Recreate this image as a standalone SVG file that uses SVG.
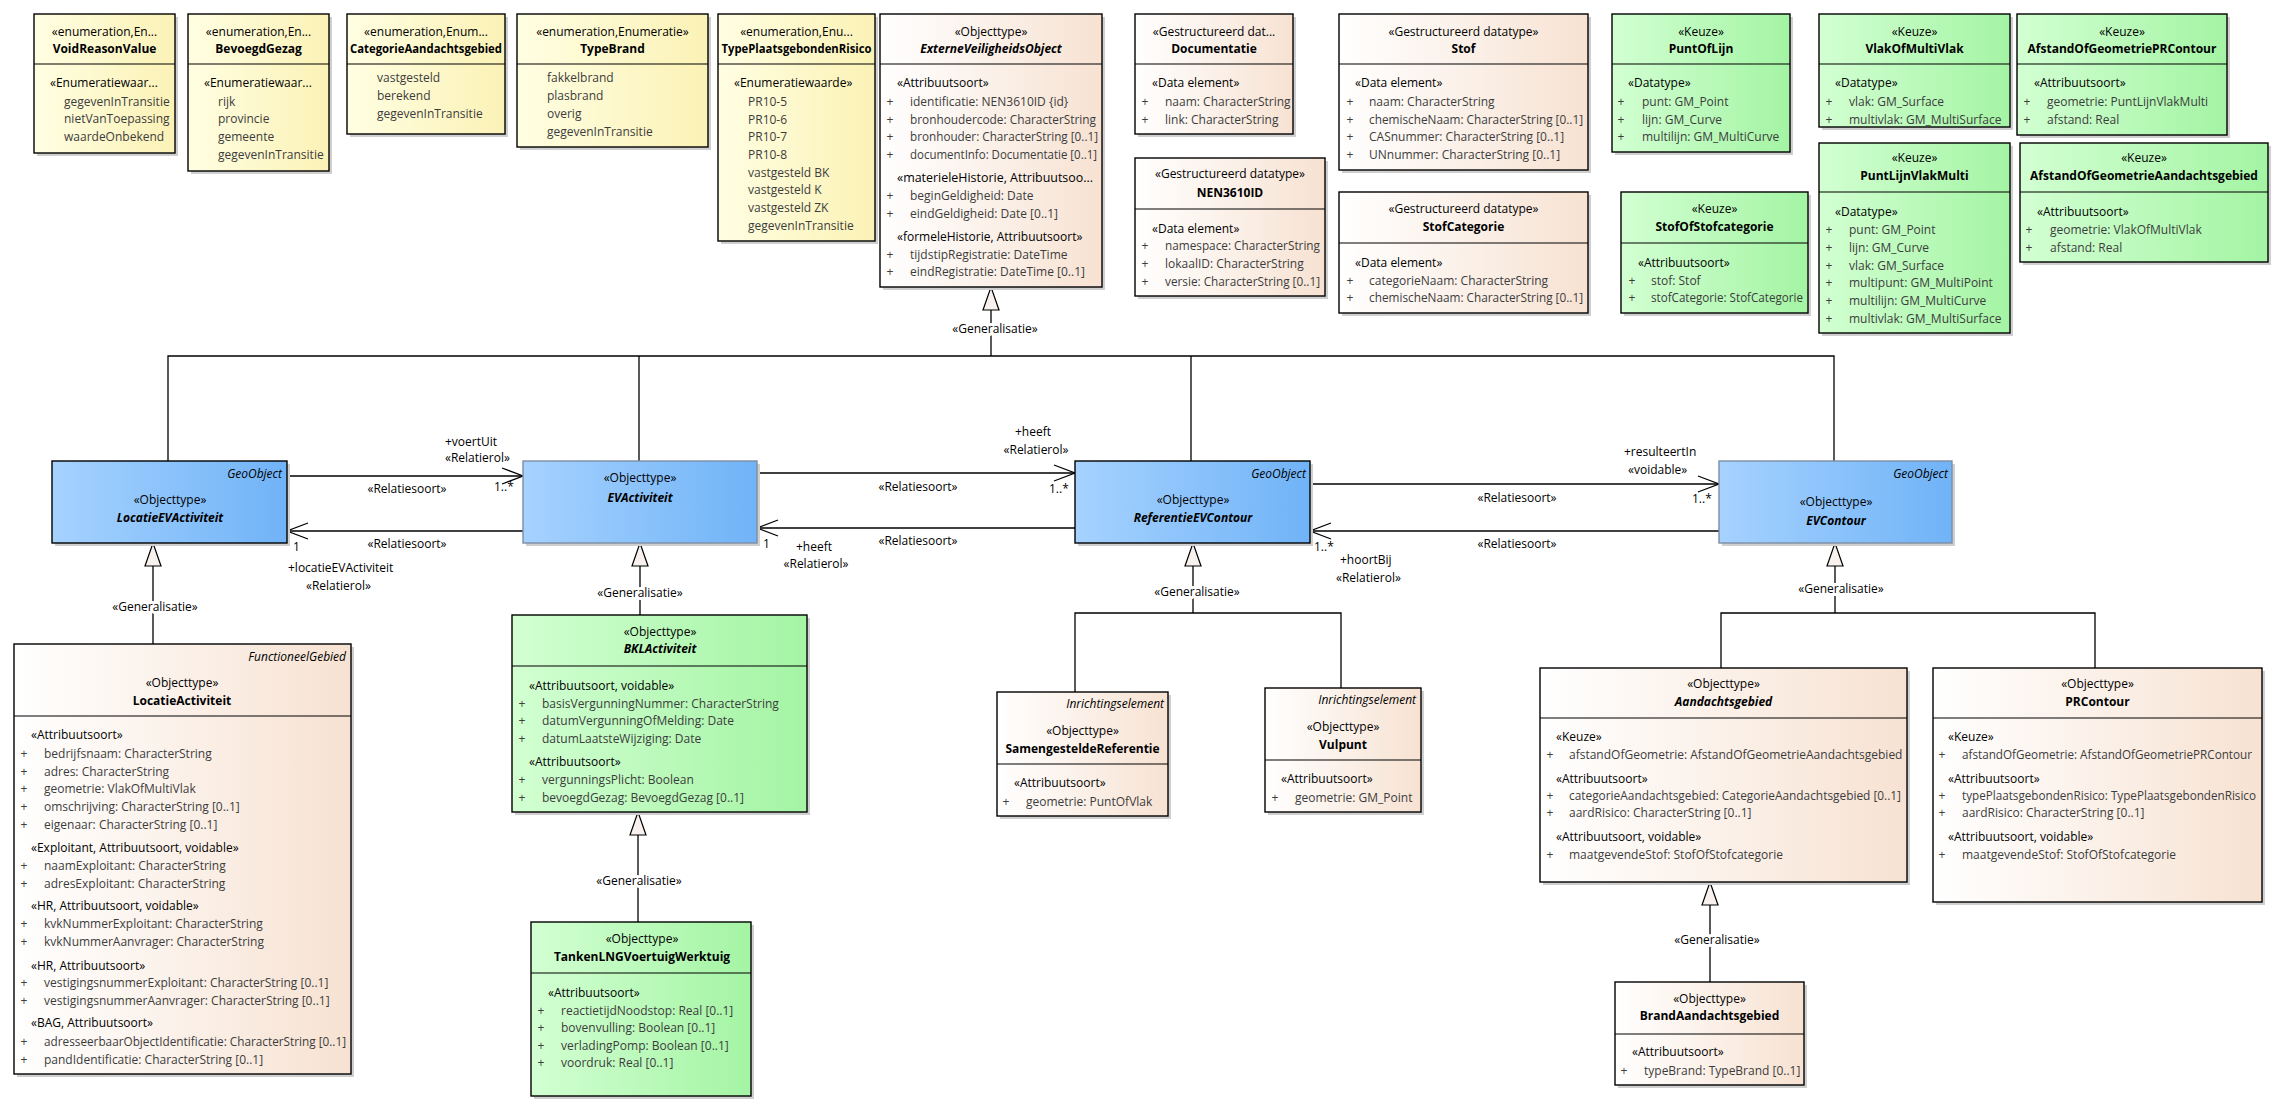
<svg xmlns="http://www.w3.org/2000/svg" width="2292" height="1116" viewBox="0 0 2292 1116">
<style>
text{font-family:'Open Sans','Noto Sans',sans-serif;font-size:12px;fill:#000}
.c{text-anchor:middle}.e{text-anchor:end}
.b{font-weight:bold}.i{font-style:italic}
.a{fill:#3c3c3c}
.p{fill:#3c3c3c;text-anchor:middle}
.sh{fill:#cfcfcf}
.bx{stroke:#000;stroke-width:1.4}
.gy{fill:url(#gY)}.gp{fill:url(#gP)}.gg{fill:url(#gG)}.gb{fill:url(#gB)}
.gr{stroke:#7d8ea3}
.dv{stroke:#000;stroke-width:1.2}
.ln{fill:none;stroke:#000;stroke-width:1.3}
.gl{paint-order:stroke;stroke:#fff;stroke-width:6px;stroke-linejoin:round}
</style>
<defs>
<linearGradient id="gY" x1="0" y1="0" x2="1" y2="0"><stop offset="0" stop-color="#FFFEE2"/><stop offset="1" stop-color="#FBF2B6"/></linearGradient>
<linearGradient id="gP" x1="0" y1="0" x2="1" y2="0"><stop offset="0" stop-color="#FFFFFF"/><stop offset="1" stop-color="#F7E2D2"/></linearGradient>
<linearGradient id="gG" x1="0" y1="0" x2="1" y2="0"><stop offset="0" stop-color="#D2FFD2"/><stop offset="1" stop-color="#A4F4A4"/></linearGradient>
<linearGradient id="gB" x1="0" y1="0" x2="1" y2="0"><stop offset="0" stop-color="#A6D2FF"/><stop offset="1" stop-color="#70B3F7"/></linearGradient>
<marker id="open" markerUnits="userSpaceOnUse" markerWidth="24" markerHeight="20" refX="21" refY="9" orient="auto" overflow="visible"><path d="M0,1 L21,9 L0,17" fill="none" stroke="#000" stroke-width="1.3"/></marker>
<marker id="tri" markerUnits="userSpaceOnUse" markerWidth="25" markerHeight="18" refX="23" refY="8" orient="auto" overflow="visible"><path d="M0,0 L23,8 L0,16 Z" fill="#F8F1EE" stroke="#000" stroke-width="1.2"/></marker>
</defs>
<rect width="2292" height="1116" fill="#fff"/>

<g id="connectors">
<path class="ln" d="M168,461 V356 H1834 V461 M639,356 V461 M1191,356 V461"/>
<path class="ln" d="M991,356 V287" marker-end="url(#tri)"/>
<text class="c gl" x="995" y="333">«Generalisatie»</text>
<path class="ln" d="M153,644 V543" marker-end="url(#tri)"/>
<text class="c gl" x="155" y="611">«Generalisatie»</text>
<path class="ln" d="M640,615 V543" marker-end="url(#tri)"/>
<text class="c gl" x="640" y="597">«Generalisatie»</text>
<path class="ln" d="M638,922 V812" marker-end="url(#tri)"/>
<text class="c gl" x="639" y="885">«Generalisatie»</text>
<path class="ln" d="M1075,692 V613 H1341 V688"/>
<path class="ln" d="M1193,613 V543" marker-end="url(#tri)"/>
<text class="c gl" x="1197" y="596">«Generalisatie»</text>
<path class="ln" d="M1721,668 V613 H2095 V668"/>
<path class="ln" d="M1835,613 V543" marker-end="url(#tri)"/>
<text class="c gl" x="1841" y="593">«Generalisatie»</text>
<path class="ln" d="M1710,982 V882" marker-end="url(#tri)"/>
<text class="c gl" x="1717" y="944">«Generalisatie»</text>

<path class="ln" d="M287,476 H523" marker-end="url(#open)"/>
<text x="445" y="446">+voertUit</text>
<text x="445" y="462">«Relatierol»</text>
<text class="c" x="407" y="493">«Relatiesoort»</text>
<text x="494" y="491">1..*</text>

<path class="ln" d="M523,531 H287" marker-end="url(#open)"/>
<text class="c" x="407" y="548">«Relatiesoort»</text>
<text x="293" y="551">1</text>
<text x="288" y="572">+locatieEVActiviteit</text>
<text x="306" y="590">«Relatierol»</text>

<path class="ln" d="M757,473 H1075" marker-end="url(#open)"/>
<text class="c" x="1033" y="436">+heeft</text>
<text class="c" x="1036" y="454">«Relatierol»</text>
<text class="c" x="918" y="491">«Relatiesoort»</text>
<text x="1049" y="493">1..*</text>

<path class="ln" d="M1075,528 H757" marker-end="url(#open)"/>
<text class="c" x="918" y="545">«Relatiesoort»</text>
<text x="763" y="548">1</text>
<text class="c" x="814" y="551">+heeft</text>
<text class="c" x="816" y="568">«Relatierol»</text>

<path class="ln" d="M1310,484 H1719" marker-end="url(#open)"/>
<text x="1624" y="456">+resulteertIn</text>
<text x="1628" y="474">«voidable»</text>
<text class="c" x="1517" y="502">«Relatiesoort»</text>
<text x="1692" y="503">1..*</text>

<path class="ln" d="M1719,531 H1310" marker-end="url(#open)"/>
<text class="c" x="1517" y="548">«Relatiesoort»</text>
<text x="1314" y="551">1..*</text>
<text x="1340" y="564">+hoortBij</text>
<text x="1336" y="582">«Relatierol»</text>
</g>

<g id="VoidReasonValue">
<rect class="sh" x="37" y="17" width="141" height="139"/>
<rect class="bx gy" x="34" y="14" width="141" height="139"/>
<line class="dv" x1="34" y1="64" x2="175" y2="64"/>
<text class="c" x="104.5" y="36">«enumeration,En...</text>
<text class="c b" x="104.5" y="53">VoidReasonValue</text>
<text x="50" y="87">«Enumeratiewaar...</text>
<text class="a" x="64" y="106">gegevenInTransitie</text>
<text class="a" x="64" y="123">nietVanToepassing</text>
<text class="a" x="64" y="141">waardeOnbekend</text>
</g>

<g id="BevoegdGezag">
<rect class="sh" x="191" y="17" width="141" height="157"/>
<rect class="bx gy" x="188" y="14" width="141" height="157"/>
<line class="dv" x1="188" y1="64" x2="329" y2="64"/>
<text class="c" x="258.5" y="36">«enumeration,En...</text>
<text class="c b" x="258.5" y="53">BevoegdGezag</text>
<text x="204" y="87">«Enumeratiewaar...</text>
<text class="a" x="218" y="106">rijk</text>
<text class="a" x="218" y="123">provincie</text>
<text class="a" x="218" y="141">gemeente</text>
<text class="a" x="218" y="159">gegevenInTransitie</text>
</g>

<g id="CategorieAandachtsgebied">
<rect class="sh" x="350" y="17" width="158" height="120"/>
<rect class="bx gy" x="347" y="14" width="158" height="120"/>
<line class="dv" x1="347" y1="64" x2="505" y2="64"/>
<text class="c" x="426" y="36">«enumeration,Enum...</text>
<text class="c b" x="426" y="53" textLength="152" lengthAdjust="spacingAndGlyphs">CategorieAandachtsgebied</text>
<text class="a" x="377" y="82">vastgesteld</text>
<text class="a" x="377" y="100">berekend</text>
<text class="a" x="377" y="118">gegevenInTransitie</text>
</g>

<g id="TypeBrand">
<rect class="sh" x="520" y="17" width="191" height="133"/>
<rect class="bx gy" x="517" y="14" width="191" height="133"/>
<line class="dv" x1="517" y1="64" x2="708" y2="64"/>
<text class="c" x="612.5" y="36">«enumeration,Enumeratie»</text>
<text class="c b" x="612.5" y="53">TypeBrand</text>
<text class="a" x="547" y="82">fakkelbrand</text>
<text class="a" x="547" y="100">plasbrand</text>
<text class="a" x="547" y="118">overig</text>
<text class="a" x="547" y="136">gegevenInTransitie</text>
</g>

<g id="TypePlaatsgebondenRisico">
<rect class="sh" x="721" y="17" width="157" height="227"/>
<rect class="bx gy" x="718" y="14" width="157" height="227"/>
<line class="dv" x1="718" y1="64" x2="875" y2="64"/>
<text class="c" x="796.5" y="36">«enumeration,Enu...</text>
<text class="c b" x="796.5" y="53" textLength="150" lengthAdjust="spacingAndGlyphs">TypePlaatsgebondenRisico</text>
<text x="734" y="87">«Enumeratiewaarde»</text>
<text class="a" x="748" y="106">PR10-5</text>
<text class="a" x="748" y="124">PR10-6</text>
<text class="a" x="748" y="141">PR10-7</text>
<text class="a" x="748" y="159">PR10-8</text>
<text class="a" x="748" y="177">vastgesteld BK</text>
<text class="a" x="748" y="194">vastgesteld K</text>
<text class="a" x="748" y="212">vastgesteld ZK</text>
<text class="a" x="748" y="230">gegevenInTransitie</text>
</g>

<g id="ExterneVeiligheidsObject">
<rect class="sh" x="883" y="17" width="222" height="273"/>
<rect class="bx gp" x="880" y="14" width="222" height="273"/>
<line class="dv" x1="880" y1="64" x2="1102" y2="64"/>
<text class="c" x="991" y="36">«Objecttype»</text>
<text class="c b i" x="991" y="53">ExterneVeiligheidsObject</text>
<text x="897" y="87">«Attribuutsoort»</text>
<text class="p" x="890" y="106">+</text><text class="a" x="910" y="106">identificatie: NEN3610ID {id}</text>
<text class="p" x="890" y="124">+</text><text class="a" x="910" y="124" textLength="186" lengthAdjust="spacingAndGlyphs">bronhoudercode: CharacterString</text>
<text class="p" x="890" y="141">+</text><text class="a" x="910" y="141" textLength="188" lengthAdjust="spacingAndGlyphs">bronhouder: CharacterString [0..1]</text>
<text class="p" x="890" y="159">+</text><text class="a" x="910" y="159" textLength="187" lengthAdjust="spacingAndGlyphs">documentInfo: Documentatie [0..1]</text>
<text x="897" y="182" textLength="196" lengthAdjust="spacingAndGlyphs">«materieleHistorie, Attribuutsoo...</text>
<text class="p" x="890" y="200">+</text><text class="a" x="910" y="200">beginGeldigheid: Date</text>
<text class="p" x="890" y="218">+</text><text class="a" x="910" y="218">eindGeldigheid: Date [0..1]</text>
<text x="897" y="241">«formeleHistorie, Attribuutsoort»</text>
<text class="p" x="890" y="259">+</text><text class="a" x="910" y="259">tijdstipRegistratie: DateTime</text>
<text class="p" x="890" y="276">+</text><text class="a" x="910" y="276">eindRegistratie: DateTime [0..1]</text>
</g>

<g id="Documentatie">
<rect class="sh" x="1138" y="17" width="158" height="120"/>
<rect class="bx gp" x="1135" y="14" width="158" height="120"/>
<line class="dv" x1="1135" y1="64" x2="1293" y2="64"/>
<text class="c" x="1214" y="36">«Gestructureerd dat...</text>
<text class="c b" x="1214" y="53">Documentatie</text>
<text x="1152" y="87">«Data element»</text>
<text class="p" x="1145" y="106">+</text><text class="a" x="1165" y="106">naam: CharacterString</text>
<text class="p" x="1145" y="124">+</text><text class="a" x="1165" y="124">link: CharacterString</text>
</g>

<g id="NEN3610ID">
<rect class="sh" x="1138" y="161" width="190" height="138"/>
<rect class="bx gp" x="1135" y="158" width="190" height="138"/>
<line class="dv" x1="1135" y1="209" x2="1325" y2="209"/>
<text class="c" x="1230" y="178">«Gestructureerd datatype»</text>
<text class="c b" x="1230" y="197">NEN3610ID</text>
<text x="1152" y="233">«Data element»</text>
<text class="p" x="1145" y="250">+</text><text class="a" x="1165" y="250" textLength="155" lengthAdjust="spacingAndGlyphs">namespace: CharacterString</text>
<text class="p" x="1145" y="268">+</text><text class="a" x="1165" y="268">lokaalID: CharacterString</text>
<text class="p" x="1145" y="286">+</text><text class="a" x="1165" y="286" textLength="155" lengthAdjust="spacingAndGlyphs">versie: CharacterString [0..1]</text>
</g>

<g id="Stof">
<rect class="sh" x="1342" y="17" width="249" height="156"/>
<rect class="bx gp" x="1339" y="14" width="249" height="156"/>
<line class="dv" x1="1339" y1="64" x2="1588" y2="64"/>
<text class="c" x="1463.5" y="36">«Gestructureerd datatype»</text>
<text class="c b" x="1463.5" y="53">Stof</text>
<text x="1355" y="87">«Data element»</text>
<text class="p" x="1350" y="106">+</text><text class="a" x="1369" y="106">naam: CharacterString</text>
<text class="p" x="1350" y="124">+</text><text class="a" x="1369" y="124" textLength="214" lengthAdjust="spacingAndGlyphs">chemischeNaam: CharacterString [0..1]</text>
<text class="p" x="1350" y="141">+</text><text class="a" x="1369" y="141">CASnummer: CharacterString [0..1]</text>
<text class="p" x="1350" y="159">+</text><text class="a" x="1369" y="159">UNnummer: CharacterString [0..1]</text>
</g>

<g id="StofCategorie">
<rect class="sh" x="1342" y="195" width="249" height="121"/>
<rect class="bx gp" x="1339" y="192" width="249" height="121"/>
<line class="dv" x1="1339" y1="243" x2="1588" y2="243"/>
<text class="c" x="1463.5" y="213">«Gestructureerd datatype»</text>
<text class="c b" x="1463.5" y="231">StofCategorie</text>
<text x="1355" y="267">«Data element»</text>
<text class="p" x="1350" y="285">+</text><text class="a" x="1369" y="285">categorieNaam: CharacterString</text>
<text class="p" x="1350" y="302">+</text><text class="a" x="1369" y="302" textLength="214" lengthAdjust="spacingAndGlyphs">chemischeNaam: CharacterString [0..1]</text>
</g>

<g id="PuntOfLijn">
<rect class="sh" x="1615" y="17" width="178" height="138"/>
<rect class="bx gg" x="1612" y="14" width="178" height="138"/>
<line class="dv" x1="1612" y1="64" x2="1790" y2="64"/>
<text class="c" x="1701" y="36">«Keuze»</text>
<text class="c b" x="1701" y="53">PuntOfLijn</text>
<text x="1628" y="87">«Datatype»</text>
<text class="p" x="1621" y="106">+</text><text class="a" x="1642" y="106">punt: GM_Point</text>
<text class="p" x="1621" y="124">+</text><text class="a" x="1642" y="124">lijn: GM_Curve</text>
<text class="p" x="1621" y="141">+</text><text class="a" x="1642" y="141">multilijn: GM_MultiCurve</text>
</g>

<g id="StofOfStofcategorie">
<rect class="sh" x="1624" y="195" width="187" height="121"/>
<rect class="bx gg" x="1621" y="192" width="187" height="121"/>
<line class="dv" x1="1621" y1="243" x2="1808" y2="243"/>
<text class="c" x="1714.5" y="213">«Keuze»</text>
<text class="c b" x="1714.5" y="231">StofOfStofcategorie</text>
<text x="1638" y="267">«Attribuutsoort»</text>
<text class="p" x="1632" y="285">+</text><text class="a" x="1651" y="285">stof: Stof</text>
<text class="p" x="1632" y="302">+</text><text class="a" x="1651" y="302" textLength="152" lengthAdjust="spacingAndGlyphs">stofCategorie: StofCategorie</text>
</g>

<g id="VlakOfMultiVlak">
<rect class="sh" x="1822" y="17" width="191" height="113"/>
<rect class="bx gg" x="1819" y="14" width="191" height="113"/>
<line class="dv" x1="1819" y1="64" x2="2010" y2="64"/>
<text class="c" x="1914.5" y="36">«Keuze»</text>
<text class="c b" x="1914.5" y="53">VlakOfMultiVlak</text>
<text x="1835" y="87">«Datatype»</text>
<text class="p" x="1829" y="106">+</text><text class="a" x="1849" y="106">vlak: GM_Surface</text>
<text class="p" x="1829" y="124">+</text><text class="a" x="1849" y="124">multivlak: GM_MultiSurface</text>
</g>

<g id="AfstandOfGeometriePRContour">
<rect class="sh" x="2020" y="17" width="210" height="121"/>
<rect class="bx gg" x="2017" y="14" width="210" height="121"/>
<line class="dv" x1="2017" y1="64" x2="2227" y2="64"/>
<text class="c" x="2122" y="36">«Keuze»</text>
<text class="c b" x="2122" y="53">AfstandOfGeometriePRContour</text>
<text x="2034" y="87">«Attribuutsoort»</text>
<text class="p" x="2027" y="106">+</text><text class="a" x="2047" y="106">geometrie: PuntLijnVlakMulti</text>
<text class="p" x="2027" y="124">+</text><text class="a" x="2047" y="124">afstand: Real</text>
</g>

<g id="PuntLijnVlakMulti">
<rect class="sh" x="1822" y="146" width="191" height="190"/>
<rect class="bx gg" x="1819" y="143" width="191" height="190"/>
<line class="dv" x1="1819" y1="192" x2="2010" y2="192"/>
<text class="c" x="1914.5" y="162">«Keuze»</text>
<text class="c b" x="1914.5" y="180">PuntLijnVlakMulti</text>
<text x="1835" y="216">«Datatype»</text>
<text class="p" x="1829" y="234">+</text><text class="a" x="1849" y="234">punt: GM_Point</text>
<text class="p" x="1829" y="252">+</text><text class="a" x="1849" y="252">lijn: GM_Curve</text>
<text class="p" x="1829" y="270">+</text><text class="a" x="1849" y="270">vlak: GM_Surface</text>
<text class="p" x="1829" y="287">+</text><text class="a" x="1849" y="287">multipunt: GM_MultiPoint</text>
<text class="p" x="1829" y="305">+</text><text class="a" x="1849" y="305">multilijn: GM_MultiCurve</text>
<text class="p" x="1829" y="323">+</text><text class="a" x="1849" y="323">multivlak: GM_MultiSurface</text>
</g>

<g id="AfstandOfGeometrieAandachtsgebied">
<rect class="sh" x="2023" y="146" width="248" height="119"/>
<rect class="bx gg" x="2020" y="143" width="248" height="119"/>
<line class="dv" x1="2020" y1="192" x2="2268" y2="192"/>
<text class="c" x="2144" y="162">«Keuze»</text>
<text class="c b" x="2144" y="180">AfstandOfGeometrieAandachtsgebied</text>
<text x="2037" y="216">«Attribuutsoort»</text>
<text class="p" x="2029" y="234">+</text><text class="a" x="2050" y="234">geometrie: VlakOfMultiVlak</text>
<text class="p" x="2029" y="252">+</text><text class="a" x="2050" y="252">afstand: Real</text>
</g>

<g id="LocatieEVActiviteit">
<rect class="sh" x="55" y="464" width="235" height="82"/>
<rect class="bx gb" x="52" y="461" width="235" height="82"/>
<text class="e i" x="282" y="478">GeoObject</text>
<text class="c" x="170" y="504">«Objecttype»</text>
<text class="c b i" x="170" y="522">LocatieEVActiviteit</text>
</g>

<g id="EVActiviteit">
<rect class="sh" x="526" y="464" width="234" height="82"/>
<rect class="bx gb gr" x="523" y="461" width="234" height="82"/>
<text class="c" x="640" y="482">«Objecttype»</text>
<text class="c b i" x="640" y="502">EVActiviteit</text>
</g>

<g id="ReferentieEVContour">
<rect class="sh" x="1078" y="464" width="235" height="82"/>
<rect class="bx gb" x="1075" y="461" width="235" height="82"/>
<text class="e i" x="1306" y="478">GeoObject</text>
<text class="c" x="1193" y="504">«Objecttype»</text>
<text class="c b i" x="1193" y="522">ReferentieEVContour</text>
</g>

<g id="EVContour">
<rect class="sh" x="1722" y="464" width="233" height="82"/>
<rect class="bx gb gr" x="1719" y="461" width="233" height="82"/>
<text class="e i" x="1948" y="478">GeoObject</text>
<text class="c" x="1836" y="506">«Objecttype»</text>
<text class="c b i" x="1836" y="525">EVContour</text>
</g>

<g id="LocatieActiviteit">
<rect class="sh" x="17" y="647" width="337" height="430"/>
<rect class="bx gp" x="14" y="644" width="337" height="430"/>
<line class="dv" x1="14" y1="716" x2="351" y2="716"/>
<text class="e i" x="346" y="661">FunctioneelGebied</text>
<text class="c" x="182" y="687">«Objecttype»</text>
<text class="c b" x="182" y="705">LocatieActiviteit</text>
<text x="31" y="739">«Attribuutsoort»</text>
<text class="p" x="24" y="758">+</text><text class="a" x="44" y="758">bedrijfsnaam: CharacterString</text>
<text class="p" x="24" y="776">+</text><text class="a" x="44" y="776">adres: CharacterString</text>
<text class="p" x="24" y="793">+</text><text class="a" x="44" y="793">geometrie: VlakOfMultiVlak</text>
<text class="p" x="24" y="811">+</text><text class="a" x="44" y="811">omschrijving: CharacterString [0..1]</text>
<text class="p" x="24" y="829">+</text><text class="a" x="44" y="829">eigenaar: CharacterString [0..1]</text>
<text x="31" y="852">«Exploitant, Attribuutsoort, voidable»</text>
<text class="p" x="24" y="870">+</text><text class="a" x="44" y="870">naamExploitant: CharacterString</text>
<text class="p" x="24" y="888">+</text><text class="a" x="44" y="888">adresExploitant: CharacterString</text>
<text x="31" y="910">«HR, Attribuutsoort, voidable»</text>
<text class="p" x="24" y="928">+</text><text class="a" x="44" y="928">kvkNummerExploitant: CharacterString</text>
<text class="p" x="24" y="946">+</text><text class="a" x="44" y="946">kvkNummerAanvrager: CharacterString</text>
<text x="31" y="970">«HR, Attribuutsoort»</text>
<text class="p" x="24" y="987">+</text><text class="a" x="44" y="987">vestigingsnummerExploitant: CharacterString [0..1]</text>
<text class="p" x="24" y="1005">+</text><text class="a" x="44" y="1005">vestigingsnummerAanvrager: CharacterString [0..1]</text>
<text x="31" y="1027">«BAG, Attribuutsoort»</text>
<text class="p" x="24" y="1046">+</text><text class="a" x="44" y="1046" textLength="302" lengthAdjust="spacingAndGlyphs">adresseerbaarObjectIdentificatie: CharacterString [0..1]</text>
<text class="p" x="24" y="1064">+</text><text class="a" x="44" y="1064">pandIdentificatie: CharacterString [0..1]</text>
</g>

<g id="BKLActiviteit">
<rect class="sh" x="515" y="618" width="295" height="197"/>
<rect class="bx gg" x="512" y="615" width="295" height="197"/>
<line class="dv" x1="512" y1="666" x2="807" y2="666"/>
<text class="c" x="660" y="636">«Objecttype»</text>
<text class="c b i" x="660" y="653">BKLActiviteit</text>
<text x="529" y="690">«Attribuutsoort, voidable»</text>
<text class="p" x="522" y="708">+</text><text class="a" x="542" y="708">basisVergunningNummer: CharacterString</text>
<text class="p" x="522" y="725">+</text><text class="a" x="542" y="725">datumVergunningOfMelding: Date</text>
<text class="p" x="522" y="743">+</text><text class="a" x="542" y="743">datumLaatsteWijziging: Date</text>
<text x="529" y="766">«Attribuutsoort»</text>
<text class="p" x="522" y="784">+</text><text class="a" x="542" y="784">vergunningsPlicht: Boolean</text>
<text class="p" x="522" y="802">+</text><text class="a" x="542" y="802">bevoegdGezag: BevoegdGezag [0..1]</text>
</g>

<g id="TankenLNGVoertuigWerktuig">
<rect class="sh" x="534" y="925" width="220" height="174"/>
<rect class="bx gg" x="531" y="922" width="220" height="174"/>
<line class="dv" x1="531" y1="973" x2="751" y2="973"/>
<text class="c" x="642" y="943">«Objecttype»</text>
<text class="c b" x="642" y="961">TankenLNGVoertuigWerktuig</text>
<text x="548" y="997">«Attribuutsoort»</text>
<text class="p" x="541" y="1015">+</text><text class="a" x="561" y="1015">reactietijdNoodstop: Real [0..1]</text>
<text class="p" x="541" y="1032">+</text><text class="a" x="561" y="1032">bovenvulling: Boolean [0..1]</text>
<text class="p" x="541" y="1050">+</text><text class="a" x="561" y="1050">verladingPomp: Boolean [0..1]</text>
<text class="p" x="541" y="1067">+</text><text class="a" x="561" y="1067">voordruk: Real [0..1]</text>
</g>

<g id="SamengesteldeReferentie">
<rect class="sh" x="1000" y="695" width="171" height="124"/>
<rect class="bx gp" x="997" y="692" width="171" height="124"/>
<line class="dv" x1="997" y1="764" x2="1168" y2="764"/>
<text class="e i" x="1164" y="708">Inrichtingselement</text>
<text class="c" x="1082.5" y="735">«Objecttype»</text>
<text class="c b" x="1082.5" y="753">SamengesteldeReferentie</text>
<text x="1014" y="787">«Attribuutsoort»</text>
<text class="p" x="1006" y="806">+</text><text class="a" x="1026" y="806">geometrie: PuntOfVlak</text>
</g>

<g id="Vulpunt">
<rect class="sh" x="1268" y="691" width="156" height="124"/>
<rect class="bx gp" x="1265" y="688" width="156" height="124"/>
<line class="dv" x1="1265" y1="760" x2="1421" y2="760"/>
<text class="e i" x="1416" y="704">Inrichtingselement</text>
<text class="c" x="1343" y="731">«Objecttype»</text>
<text class="c b" x="1343" y="749">Vulpunt</text>
<text x="1281" y="783">«Attribuutsoort»</text>
<text class="p" x="1275" y="802">+</text><text class="a" x="1295" y="802">geometrie: GM_Point</text>
</g>

<g id="Aandachtsgebied">
<rect class="sh" x="1543" y="671" width="367" height="214"/>
<rect class="bx gp" x="1540" y="668" width="367" height="214"/>
<line class="dv" x1="1540" y1="718" x2="1907" y2="718"/>
<text class="c" x="1723.5" y="688">«Objecttype»</text>
<text class="c b i" x="1723.5" y="706">Aandachtsgebied</text>
<text x="1556" y="741">«Keuze»</text>
<text class="p" x="1550" y="759">+</text><text class="a" x="1569" y="759">afstandOfGeometrie: AfstandOfGeometrieAandachtsgebied</text>
<text x="1556" y="783">«Attribuutsoort»</text>
<text class="p" x="1550" y="800">+</text><text class="a" x="1569" y="800" textLength="332" lengthAdjust="spacingAndGlyphs">categorieAandachtsgebied: CategorieAandachtsgebied [0..1]</text>
<text class="p" x="1550" y="817">+</text><text class="a" x="1569" y="817">aardRisico: CharacterString [0..1]</text>
<text x="1556" y="841">«Attribuutsoort, voidable»</text>
<text class="p" x="1550" y="859">+</text><text class="a" x="1569" y="859">maatgevendeStof: StofOfStofcategorie</text>
</g>

<g id="PRContour">
<rect class="sh" x="1936" y="671" width="329" height="234"/>
<rect class="bx gp" x="1933" y="668" width="329" height="234"/>
<line class="dv" x1="1933" y1="718" x2="2262" y2="718"/>
<text class="c" x="2097.5" y="688">«Objecttype»</text>
<text class="c b" x="2097.5" y="706">PRContour</text>
<text x="1948" y="741">«Keuze»</text>
<text class="p" x="1942" y="759">+</text><text class="a" x="1962" y="759" textLength="290" lengthAdjust="spacingAndGlyphs">afstandOfGeometrie: AfstandOfGeometriePRContour</text>
<text x="1948" y="783">«Attribuutsoort»</text>
<text class="p" x="1942" y="800">+</text><text class="a" x="1962" y="800" textLength="294" lengthAdjust="spacingAndGlyphs">typePlaatsgebondenRisico: TypePlaatsgebondenRisico</text>
<text class="p" x="1942" y="817">+</text><text class="a" x="1962" y="817">aardRisico: CharacterString [0..1]</text>
<text x="1948" y="841">«Attribuutsoort, voidable»</text>
<text class="p" x="1942" y="859">+</text><text class="a" x="1962" y="859">maatgevendeStof: StofOfStofcategorie</text>
</g>

<g id="BrandAandachtsgebied">
<rect class="sh" x="1618" y="985" width="189" height="103"/>
<rect class="bx gp" x="1615" y="982" width="189" height="103"/>
<line class="dv" x1="1615" y1="1034" x2="1804" y2="1034"/>
<text class="c" x="1709.5" y="1003">«Objecttype»</text>
<text class="c b" x="1709.5" y="1020">BrandAandachtsgebied</text>
<text x="1632" y="1056">«Attribuutsoort»</text>
<text class="p" x="1624" y="1075">+</text><text class="a" x="1644" y="1075">typeBrand: TypeBrand [0..1]</text>
</g>
</svg>
